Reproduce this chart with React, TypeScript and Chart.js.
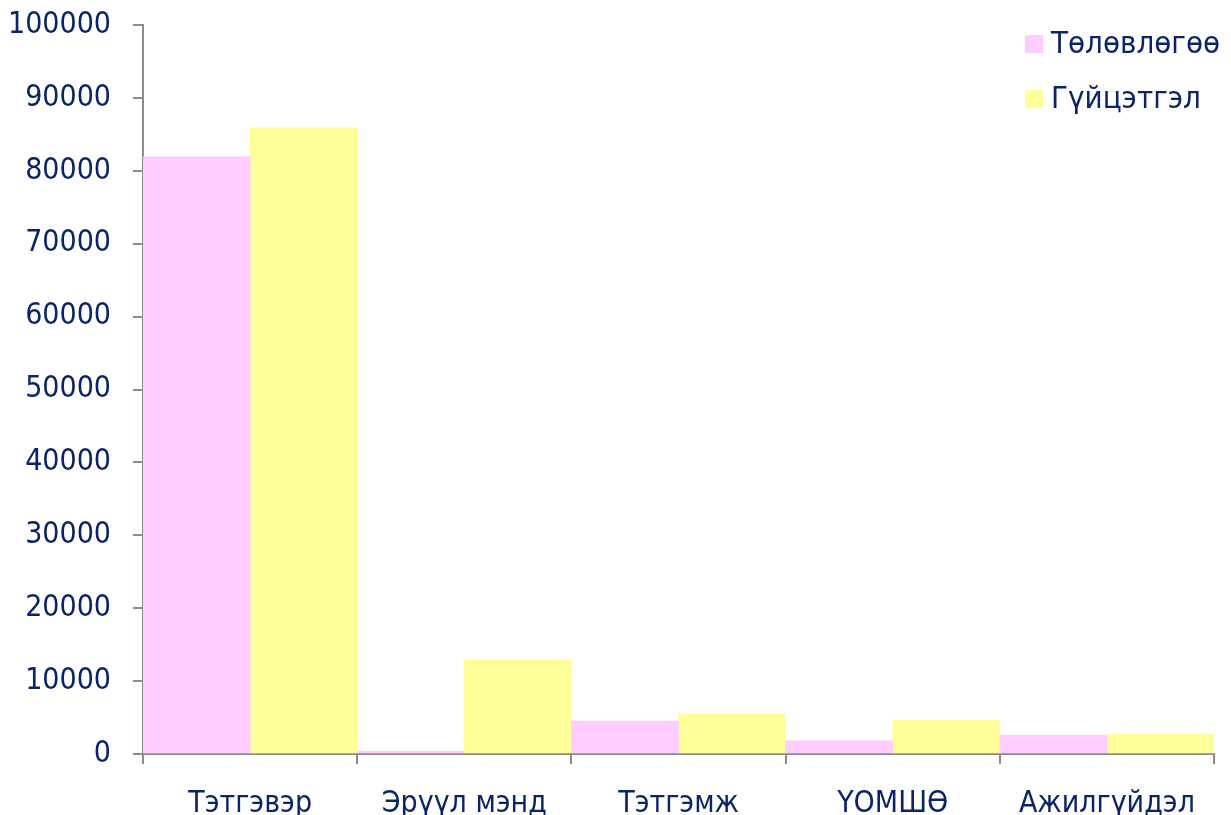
import React, { useEffect, useRef } from "react";
import { Chart, registerables } from "chart.js";

Chart.register(...registerables);

const categories = ["Тэтгэвэр", "Эрүүл мэнд", "Тэтгэмж", "ҮОМШӨ", "Ажилгүйдэл"];
const planValues = [81900, 400, 4500, 1800, 2600];
const actualValues = [85900, 12900, 5500, 4650, 2700];
const seriesNames = ["Төлөвлөгөө", "Гүйцэтгэл"];
const seriesColors = ["#FFCCFF", "#FFFF99"];

const FONT = "'DejaVu Sans Condensed', 'DejaVu Sans', sans-serif";
const TEXT = "#0B2468";
const SHIFT = 15;

const legendPlugin = {
  id: "customLegend",
  afterDraw(chart: any) {
    const ctx = chart.ctx;
    ctx.save();
    ctx.font = `31px ${FONT}`;
    ctx.textBaseline = "middle";
    ctx.textAlign = "left";
    chart.data.datasets.forEach((ds: any, i: number) => {
      const y = SHIFT + 44 + i * 55;
      ctx.fillStyle = ds.backgroundColor;
      ctx.fillRect(1025, y - 9, 18, 18);
      ctx.fillStyle = TEXT;
      ctx.fillText(ds.label, 1051, y + 1);
    });
    ctx.restore();
  },
};

export default function App() {
  const ref = useRef<HTMLCanvasElement>(null);
  useEffect(() => {
    const chart = new Chart(ref.current!, {
      type: "bar",
      data: {
        labels: categories,
        datasets: [
          { label: seriesNames[0], data: planValues, backgroundColor: seriesColors[0] },
          { label: seriesNames[1], data: actualValues, backgroundColor: seriesColors[1] },
        ],
      },
      options: {
        animation: false,
        responsive: false,
        layout: { padding: { top: 10, right: 17, left: 0, bottom: 0 } },
        plugins: { legend: { display: false }, tooltip: { enabled: false } },
        datasets: { bar: { categoryPercentage: 1, barPercentage: 1 } },
        scales: {
          x: {
            grid: { offset: true, drawOnChartArea: false, drawTicks: true, tickLength: 10, color: "#8C8C8C", lineWidth: 2 },
            border: { color: "#8C8C8C", width: 2 },
            ticks: { color: TEXT, font: { family: FONT, size: 30 }, padding: 22, maxRotation: 0 },
            afterFit: (s: any) => { s.height = 61; },
          },
          y: {
            min: 0,
            max: 100000,
            ticks: {
              stepSize: 10000,
              color: TEXT,
              font: { family: FONT, size: 30 },
              padding: 22,
              callback: (v: any) => String(v),
            },
            grid: { drawOnChartArea: false, drawTicks: true, tickLength: 10, color: "#8C8C8C", lineWidth: 2 },
            border: { color: "#8C8C8C", width: 2 },
            afterFit: (s: any) => { s.width = 143; },
          },
        },
      },
      plugins: [legendPlugin],
    });
    return () => chart.destroy();
  }, []);
  return (
    <div style={{ position: "fixed", left: 0, top: 0, width: 1231, height: 815, background: "#fff", overflow: "hidden" }}>
      <canvas
        ref={ref}
        width={1231}
        height={815 + SHIFT}
        style={{ display: "block", position: "absolute", left: 0, top: -SHIFT }}
      />
    </div>
  );
}
